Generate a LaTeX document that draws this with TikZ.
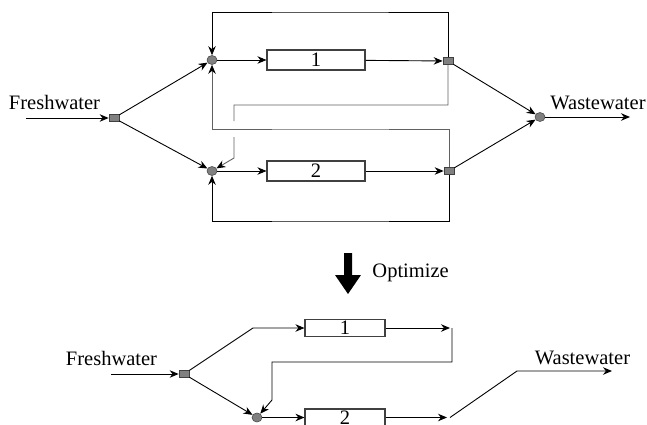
\documentclass[tikz,border=0pt]{standalone}
\usepackage{fontspec}
\setmainfont{Liberation Serif}
\usetikzlibrary{arrows.meta,shapes.geometric}
\begin{document}
\begin{tikzpicture}[x=1pt,y=-1pt,
  line width=0.9pt,
  >={Stealth[length=9pt,width=7.5pt]},
  lbl/.style={font=\fontsize{20.5}{24}\selectfont, inner sep=0pt, anchor=base},
  splitter/.style={draw=black!75, fill=black!50, minimum width=10pt, minimum height=7pt, inner sep=0pt, line width=0.7pt},
  mixer/.style={ellipse, draw=black!70, fill=black!50, minimum width=10pt, minimum height=9pt, inner sep=0pt, line width=0.6pt},
  unit/.style={draw=black!75, line width=1.1pt, inner sep=0pt, font=\fontsize{20.5}{24}\selectfont},
  bigunit/.style={unit, minimum width=98pt, minimum height=20pt},
  smallunit/.style={unit, minimum width=80pt, minimum height=17pt},
  rec/.style={draw=black!62, -{Stealth[length=9pt,width=7.5pt,color=black]}},
]
\useasboundingbox (0,0) rectangle (647,425);

% ---------- top network ----------
\node[lbl] (fw1) at (54.5,110) {Freshwater};
\node[lbl] (ww1) at (598,110) {Wastewater};
\coordinate (fin1) at (26,118);
\coordinate (wout1) at (630,117);
\node[splitter] (sp0) at (114,118) {};
\node[mixer] (m1) at (212,60) {};
\node[mixer] (m2) at (212,171) {};
\node[bigunit] (b1) at (316,60) {1};
\node[bigunit] (b2) at (316,171) {2};
\node[splitter] (sp1) at (448,61) {};
\node[splitter] (sp2) at (449,171) {};
\node[mixer] (mw) at (540,117) {};

\coordinate (ctop) at (330,12);
\coordinate (cbot) at (330,221);
\coordinate (c1) at (330,129);
\coordinate (c2) at (330,105);
\coordinate (g1) at (234,121);
\coordinate (g2) at (234,137);
\coordinate (g3) at (234,158);

\draw[->] (fin1) -- (sp0);
\draw[->] (sp0) -- (m1);
\draw[->] (sp0) -- (m2);
\draw[->] (m1) -- (b1);
\draw[->] (m2) -- (b2);
\draw[->] (b1) -- (sp1);
\draw[->] (b2) -- (sp2);
\draw[->] (sp1) -- (mw);
\draw[->] (sp2) -- (mw);
\draw[->] (mw) -- (wout1);
\draw[->] (sp1.north) |- (ctop) -| (m1.north);
\draw[->] (sp2.south) |- (cbot) -| (m2.south);
\draw[rec] (sp2.north) |- (c1) -| (m1.south);
\draw[rec] (sp1.south) |- (c2) -| (g1) (g2) -- (g3) -- (m2);

% ---------- optimize arrow ----------
\fill[black] (344,253) -- (352,253) -- (352,275) -- (361,275) -- (348,294)
  -- (335,275) -- (344,275) -- cycle;
\node[lbl, anchor=base west] (opt) at (372,277) {Optimize};

% ---------- bottom network ----------
\node[lbl] (fw2) at (111.5,365) {Freshwater};
\node[lbl] (ww2) at (582.5,364) {Wastewater};
\coordinate (fin2) at (111,374);
\node[splitter] (sp3) at (184,374) {};
\node[smallunit] (b3) at (345,328) {1};
\node[smallunit] (b4) at (345,417.5) {2};
\node[mixer] (m3) at (257,417.5) {};
\coordinate (k1) at (253,328);
\coordinate (t1) at (450,328);
\coordinate (t2) at (452,328);
\coordinate (t3) at (272,362);
\coordinate (t4) at (272,400);
\coordinate (t5) at (447,417.5);
\coordinate (t6) at (450,417.5);
\coordinate (t7) at (517,371);
\coordinate (t8) at (612,371);

\draw[->] (fin2) -- (sp3);
\draw[->] (sp3) -- (k1) -- (b3);
\draw[->] (sp3) -- (m3);
\draw[->] (m3) -- (b4);
\draw[->] (b3) -- (t1);
\draw[->] (t2) |- (t3) -- (t4) -- (m3);
\draw[->] (b4) -- (t5);
\draw[->] (t6) -- (t7) -- (t8);
\end{tikzpicture}
\end{document}
